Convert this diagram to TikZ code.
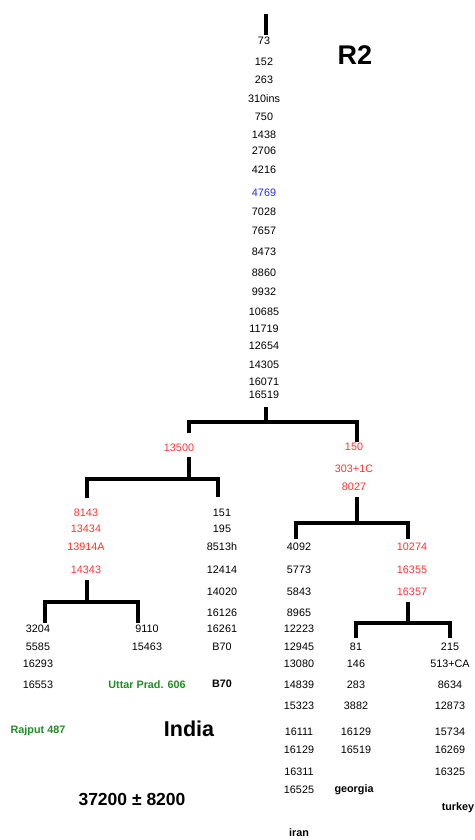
\documentclass[tikz,border=0pt]{standalone}
\usepackage{fontspec}
\setmainfont{Liberation Sans}
\definecolor{mutred}{RGB}{255,51,51}
\definecolor{mutblue}{RGB}{40,40,255}
\definecolor{popgreen}{RGB}{34,139,34}
\begin{document}
\begin{tikzpicture}[x=1pt,y=-1pt,
  lbl/.style={inner sep=0pt,anchor=center,font=\fontsize{10.8}{12}\selectfont},
  mut/.style={lbl,text=black},
  hot/.style={lbl,text=mutred},
  rare/.style={lbl,text=mutblue},
  pop/.style={lbl,text=black,font=\fontsize{10.8}{12}\selectfont\bfseries},
  grp/.style={lbl,text=popgreen,font=\fontsize{10.8}{12}\selectfont\bfseries},
  branch/.style={line width=3.5pt,line join=miter}]
\useasboundingbox (0,0) rectangle (474,840);

% root trunk
\node[mut] (m73) at (264,41) {73};
\node[mut] (m152) at (264,62) {152};
\node[mut] (m263) at (264,80) {263};
\node[mut] (m310) at (264,99) {310ins};
\node[mut] (m750) at (264,117) {750};
\node[mut] (m1438) at (264,135) {1438};
\node[mut] (m2706) at (264,151) {2706};
\node[mut] (m4216) at (264,170) {4216};
\node[rare] (m4769) at (264,193) {4769};
\node[mut] (m7028) at (264,212) {7028};
\node[mut] (m7657) at (264,231) {7657};
\node[mut] (m8473) at (264,252) {8473};
\node[mut] (m8860) at (264,273) {8860};
\node[mut] (m9932) at (264,292) {9932};
\node[mut] (m10685) at (264,312) {10685};
\node[mut] (m11719) at (264,329) {11719};
\node[mut] (m12654) at (264,346) {12654};
\node[mut] (m14305) at (264,365) {14305};
\node[mut] (m16071) at (264,382) {16071};
\node[mut] (m16519) at (264,395) {16519};

\node[lbl,font=\fontsize{27}{30}\selectfont\bfseries] (title) at (355,55) {R2};

% first split: left (13500) and right (150 ...)
\node[hot] (a13500) at (179,448) {13500};
\node[hot] (b150) at (354,447) {150};
\node[hot] (b303) at (354,469) {303+1C};
\node[hot] (b8027) at (354,487) {8027};

% left clade
\node[hot] (c8143) at (86,513) {8143};
\node[hot] (c13434) at (86,529) {13434};
\node[hot] (c13914) at (86,547) {13914A};
\node[hot] (c14343) at (86,570) {14343};

\node[mut] (d151) at (222,513) {151};
\node[mut] (d195) at (222,529) {195};
\node[mut] (d8513) at (222,547) {8513h};
\node[mut] (d12414) at (222,570) {12414};
\node[mut] (d14020) at (222,592) {14020};
\node[mut] (d16126) at (222,613) {16126};
\node[mut] (d16261) at (222,629) {16261};
\node[mut] (d70) at (222,647) {B70};
\node[pop] (dname) at (222,684) {B70};

\node[mut] (e3204) at (38,629) {3204};
\node[mut] (e5585) at (38,647) {5585};
\node[mut] (e16293) at (38,664) {16293};
\node[mut] (e16553) at (38,685) {16553};
\node[grp] (ename) at (38,731) {Rajput 487};

\node[mut] (f9110) at (147,629) {9110};
\node[mut] (f15463) at (147,647) {15463};
\node[grp] (fname) at (147,685) {Uttar Prad. 606};

\node[lbl,font=\fontsize{21.5}{24}\selectfont\bfseries] (india) at (189,729) {India};
\node[lbl,font=\fontsize{17.5}{20}\selectfont\bfseries] (age) at (132,799) {37200 ± 8200};

% right clade
\node[mut] (g4092) at (299,547) {4092};
\node[mut] (g5773) at (299,570) {5773};
\node[mut] (g5843) at (299,592) {5843};
\node[mut] (g8965) at (299,613) {8965};
\node[mut] (g12223) at (299,629) {12223};
\node[mut] (g12945) at (299,647) {12945};
\node[mut] (g13080) at (299,664) {13080};
\node[mut] (g14839) at (299,685) {14839};
\node[mut] (g15323) at (299,706) {15323};
\node[mut] (g16111) at (299,732) {16111};
\node[mut] (g16129) at (299,750) {16129};
\node[mut] (g16311) at (299,772) {16311};
\node[mut] (g16525) at (299,790) {16525};
\node[pop] (gname) at (299,833) {iran};

\node[hot] (h10274) at (412,547) {10274};
\node[hot] (h16355) at (412,570) {16355};
\node[hot] (h16357) at (412,592) {16357};

\node[mut] (k81) at (356,647) {81};
\node[mut] (k146) at (356,664) {146};
\node[mut] (k283) at (356,685) {283};
\node[mut] (k3882) at (356,706) {3882};
\node[mut] (k16129) at (356,732) {16129};
\node[mut] (k16519) at (356,750) {16519};
\node[pop] (kname) at (354,790) {georgia};

\node[mut] (t215) at (450,647) {215};
\node[mut] (t513) at (450,664) {513+CA};
\node[mut] (t8634) at (450,685) {8634};
\node[mut] (t12873) at (450,706) {12873};
\node[mut] (t15734) at (450,732) {15734};
\node[mut] (t16269) at (450,750) {16269};
\node[mut] (t16325) at (450,772) {16325};
\node[pop] (tname) at (458,808) {turkey};

% branch points
\coordinate (r0) at (266,14);
\coordinate (r1) at (266,35);
\coordinate (s0) at (266,407);
\coordinate (s1) at (266,422);
\coordinate (sL) at (189,433);
\coordinate (sR) at (357,442);
\coordinate (p0) at (189,457);
\coordinate (p1) at (189,479);
\coordinate (pL) at (87,498);
\coordinate (pR) at (218,497);
\coordinate (q0) at (87,580);
\coordinate (q1) at (87,602);
\coordinate (qL) at (45,623);
\coordinate (qR) at (138,623);
\coordinate (u0) at (357,497);
\coordinate (u1) at (357,523);
\coordinate (uL) at (296,539);
\coordinate (uR) at (408,539);
\coordinate (v0) at (408,602);
\coordinate (v1) at (408,623);
\coordinate (vL) at (356,638);
\coordinate (vR) at (450,638);

% tree lines
\draw[branch] (r0) -- (r1);
\draw[branch] (s0) -- (s1);
\draw[branch] (sL) |- (s1) -| (sR);
\draw[branch] (p0) -- (p1);
\draw[branch] (pL) |- (p1) -| (pR);
\draw[branch] (q0) -- (q1);
\draw[branch] (qL) |- (q1) -| (qR);
\draw[branch] (u0) -- (u1);
\draw[branch] (uL) |- (u1) -| (uR);
\draw[branch] (v0) -- (v1);
\draw[branch] (vL) |- (v1) -| (vR);
\end{tikzpicture}
\end{document}
